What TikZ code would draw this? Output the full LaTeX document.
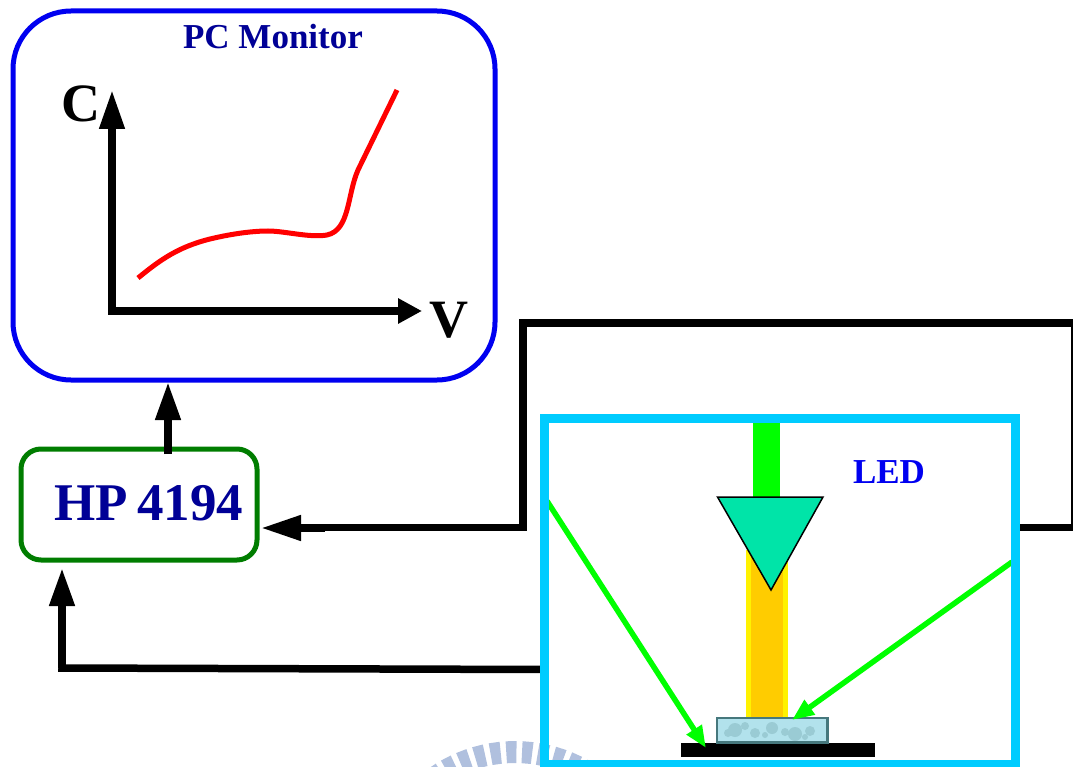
\documentclass[tikz,border=0pt]{standalone}
\usepackage{fontspec}
\setmainfont{Liberation Serif}
\usetikzlibrary{arrows.meta,calc,shapes.geometric}
\definecolor{monblue}{RGB}{0,0,240}
\definecolor{navyt}{RGB}{0,0,150}
\definecolor{hpgreen}{RGB}{0,125,0}
\definecolor{ledcyan}{RGB}{0,204,255}
\definecolor{wm}{RGB}{176,192,222}
\definecolor{ledteal}{RGB}{0,228,168}
\definecolor{beam}{RGB}{255,204,0}
\definecolor{sample}{RGB}{178,226,236}
\definecolor{sampleedge}{RGB}{70,120,125}
\tikzset{
  x=1pt,y=-1pt,
  blk/.style={line width=7.5pt,black,line cap=butt,line join=miter},
  sarrow/.style={line width=5.5pt,color=green,-{Triangle[length=22pt,width=17pt]}},
  lab/.style={font=\bfseries,inner sep=0pt,anchor=center},
  anode/.style={inner sep=0pt,minimum size=0pt},
}
\begin{document}
\begin{tikzpicture}
\useasboundingbox (0,0) rectangle (1073,767);
% watermark
\foreach \a in {-34,-27.5,-21,-14.5,-8,-1.5,5,11.5,18,24.5,31}{
  \fill[wm] ({515+150*sin(\a-2.1)},{891-150*cos(\a-2.1)}) -- ({515+150*sin(\a+2.1)},{891-150*cos(\a+2.1)})
   -- ({515+128*sin(\a+2.1)},{891-128*cos(\a+2.1)}) -- ({515+128*sin(\a-2.1)},{891-128*cos(\a-2.1)}) -- cycle;
}
% monitor
\node[anode,draw=monblue,line width=5pt,rounded corners=58pt,minimum width=482pt,minimum height=369pt] (monitor) at (254,195.5) {};
\node[lab,text=navyt,font=\bfseries\fontsize{35}{38}\selectfont] (pctitle) at (273,37) {PC Monitor};
% axes
\coordinate (origin) at (112,311);
\coordinate (ytip) at (112,90);
\coordinate (xtip) at (422,311);
\draw[line width=7.5pt,-{Triangle[length=39pt,width=24pt]}] ($(origin)+(0,3.5)$) -- (ytip);
\draw[line width=7.5pt,-{Triangle[length=24pt,width=24pt]}] (origin) -- (xtip);
\node[lab,font=\bfseries\fontsize{54}{56}\selectfont] (clabel) at (81,104) {C};
\node[lab,font=\bfseries\fontsize{54}{56}\selectfont] (vlabel) at (449,320) {V};
% curve
\draw[red,line width=5pt,line cap=butt] (138,278) .. controls (160,260) and (178,247) .. (210,239)
 .. controls (235,233) and (255,231) .. (268,231)
 .. controls (285,231) and (310,238) .. (327,235)
 .. controls (350,230) and (347,195) .. (358,170)
 -- (397,90);
% HP box
\node[anode,draw=hpgreen,line width=5pt,rounded corners=20pt,minimum width=236pt,minimum height=111pt] (hp) at (139,504.5) {};
\node[lab,text=navyt,font=\bfseries\fontsize{53}{55}\selectfont] (hplabel) at (149,503) {HP\hspace{9pt}4194};
% connectors
\draw[blk,-{Triangle[length=38pt,width=24pt]}] (168,454) -- (168,382);
\coordinate (tl) at (523,323);
\coordinate (tr) at (1072,323);
\coordinate (br) at (1072,527.5);
\coordinate (ml) at (523,527.5);
\draw[blk] (1020,527.5) -- (1073,527.5);
\draw[black,line width=1.5pt] (tr) -- (br);
\draw[blk] (1073,323) -- (tl) -- (ml) -- (300,527.5);
\draw[blk,-{Triangle[length=40pt,width=24pt]}] (325,528) -- (261,528);
\coordinate (bl) at (62,668);
\draw[blk] (543,669.5) -- (58.25,668);
\draw[blk,-{Triangle[length=38pt,width=24pt]}] (bl) -- (62,568);
% LED box contents
\fill[green] (753,420) rectangle (780,500);
\fill[yellow] (746,550) rectangle (787.5,717);
\fill[beam] (750.7,550) rectangle (783,717);
\node[lab,text=monblue,font=\bfseries\fontsize{35}{38}\selectfont] (ledlabel) at (889,472) {LED};
\coordinate (t1) at (717.5,497);
\coordinate (t2) at (823,497);
\coordinate (t3) at (771,590);
\filldraw[fill=ledteal,draw=black,line width=1.5pt,line join=miter] (t1) -- (t2) -- (t3) -- cycle;
% stage and sample
\node[anode,fill=black,minimum width=194.5pt,minimum height=14pt] (stage) at (778,749.6) {};
\node[anode,draw=sampleedge,line width=1.5pt,fill=sample,minimum width=110pt,minimum height=24pt] (samplebox) at (772.2,730) {};
\foreach \x/\y/\r in {735/730/7,728/733/4,755/733/5,772/728/6,795/734/7,810/731/5,745/726/4,785/732/4,805/737/3,765/735/3}{
  \fill[sampleedge!22!sample] (\x,\y) circle[radius=\r];
}
\draw[sampleedge,line width=1.5pt] (samplebox.north west) rectangle (samplebox.south east);
% green arrows
\coordinate (gl) at (547,501);
\coordinate (gr) at (1012,562);
\draw[sarrow] (gl) -- (706,748);
\draw[sarrow] (gr) -- (792,720);
% LED frame
\node[anode,draw=ledcyan,line width=9pt,minimum width=471.5pt,minimum height=346.5pt] (ledframe) at (779.75,591.25) {};
\end{tikzpicture}
\end{document}
